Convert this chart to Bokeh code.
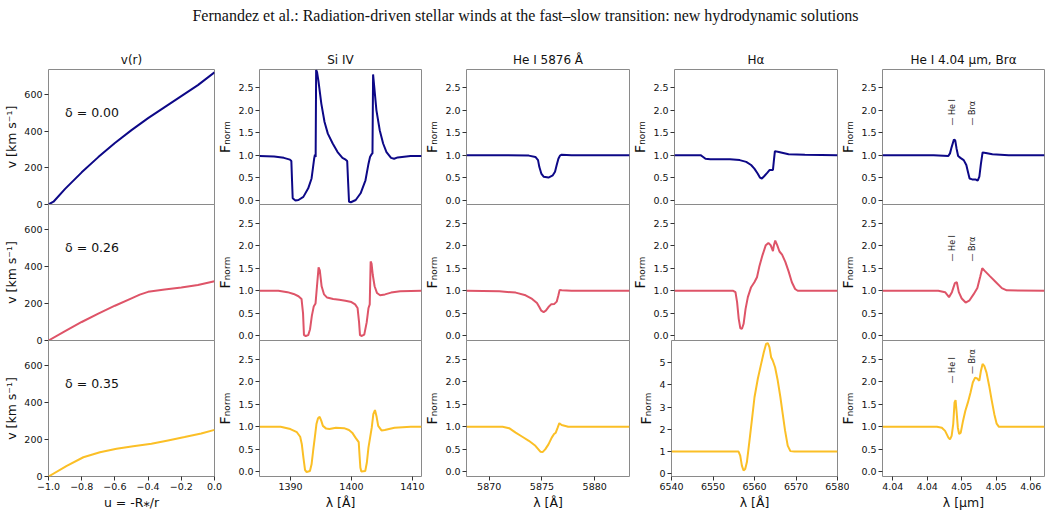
import math
from bokeh.plotting import figure
from bokeh.layouts import column, row
from bokeh.models import Range1d, FixedTicker, Label
from bokeh.embed import file_html
from bokeh.resources import INLINE
from bokeh.core.properties import value

TITLE = "Fernandez et al.: Radiation-driven stellar winds at the fast\u2013slow transition: new hydrodynamic solutions"
COL_TITLES = ["v(r)", "Si IV", "He I 5876 \u00c5", "H\u03b1", "He I 4.04 \u03bcm, Br\u03b1"]
DELTA_LABELS = ["\u03b4 = 0.00", "\u03b4 = 0.26", "\u03b4 = 0.35"]
COLORS = ["#0d0887", "#de5468", "#fbbf26"]

# ---- v(r) ----
U_D000 = [-1.0, -0.97, -0.9, -0.8, -0.7, -0.6, -0.5, -0.4, -0.3, -0.2, -0.1, 0.0]
V_D000 = [0, 15, 85, 175, 258, 335, 405, 470, 530, 590, 650, 720]
U_D026 = [-1.0, -0.9, -0.8, -0.7, -0.6, -0.5, -0.45, -0.4, -0.3, -0.2, -0.1, 0.0]
V_D026 = [0, 50, 100, 145, 188, 228, 248, 263, 275, 286, 300, 320]
U_D035 = [-1.0, -0.89, -0.79, -0.69, -0.59, -0.49, -0.38, -0.28, -0.18, -0.08, 0.0]
V_D035 = [0, 58, 104, 131, 150, 164, 177, 195, 213, 232, 252]

# ---- Si IV ----
SI_WL_0 = [1384.9, 1387.3, 1388.9, 1389.9, 1390.13, 1390.24, 1390.35, 1390.8, 1391.3, 1392.1,
           1392.9, 1393.45, 1393.7, 1393.87, 1394.0, 1394.12,
           1394.2, 1394.35, 1394.57, 1395.05, 1395.58, 1396.12, 1396.92, 1397.72, 1398.52, 1399.05,
           1399.3, 1399.45, 1399.6, 1399.9, 1400.7, 1401.5, 1402.3, 1402.8, 1403.05, 1403.3, 1403.45,
           1403.55, 1403.75, 1404.1, 1404.65, 1405.2, 1405.75, 1406.5, 1407.0, 1407.6, 1409.7, 1411.5]
SI_F_0 = [0.98, 0.97, 0.94, 0.90, 0.87, 0.44, 0.04, -0.01, 0.0, 0.07,
          0.26, 0.48, 0.74, 0.92, 1.01, 0.96,
          2.90, 2.85, 2.66, 2.15, 1.74, 1.48, 1.26, 1.07, 0.94, 0.90,
          0.87, 0.40, -0.04, -0.05, 0.0, 0.15, 0.44, 0.81, 0.96, 1.02, 1.04,
          2.80, 2.51, 2.0, 1.55, 1.26, 1.07, 0.94, 0.92, 0.95, 0.98, 0.98]
SI_WL_1 = [1384.9, 1388.0, 1389.5, 1390.5, 1391.3, 1391.8, 1392.05, 1392.2, 1392.5, 1392.9,
           1393.2, 1393.5, 1393.8, 1394.1, 1394.4, 1394.6, 1394.8, 1395.1, 1395.5, 1396.0,
           1397.0, 1398.0, 1399.0, 1400.0, 1400.6, 1401.0, 1401.25, 1401.4, 1401.7, 1402.1,
           1402.5, 1402.8, 1403.0, 1403.15, 1403.3, 1403.5, 1403.8, 1404.2, 1404.7, 1405.5,
           1406.5, 1408.0, 1411.5]
SI_F_1 = [1.0, 1.0, 0.97, 0.93, 0.88, 0.82, 0.5, 0.02, 0.0, 0.02,
          0.15, 0.45, 0.65, 0.72, 1.2, 1.52, 1.45, 1.1, 0.92, 0.85,
          0.82, 0.80, 0.78, 0.75, 0.70, 0.62, 0.3, 0.02, 0.0, 0.03,
          0.3, 0.62, 0.7, 1.65, 1.6, 1.35, 1.1, 0.95, 0.9, 0.92,
          0.96, 0.99, 1.0]
SI_WL_2 = [1384.9, 1388.37, 1389.97, 1391.04, 1391.58, 1391.84, 1392.11, 1392.38, 1392.64, 1393.18,
           1393.45, 1393.71, 1393.98, 1394.25, 1394.51, 1394.78, 1395.05, 1395.31, 1395.85, 1396.38,
           1397.45, 1398.79, 1399.59, 1400.12, 1400.66, 1401.19, 1401.35, 1401.46, 1401.62, 1402.26,
           1402.53, 1402.79, 1403.06, 1403.33, 1403.59, 1403.86, 1404.13, 1404.39, 1404.93, 1405.46,
           1407.07, 1409.74, 1411.5]
SI_F_2 = [1.0, 1.0, 0.95, 0.88, 0.78, 0.62, 0.32, 0.04, 0.0, 0.02,
          0.17, 0.47, 0.76, 1.06, 1.19, 1.22, 1.13, 1.02, 0.96, 0.95,
          0.98, 0.97, 0.93, 0.87, 0.76, 0.66, 0.32, 0.10, 0.01, 0.02,
          0.21, 0.54, 0.76, 0.98, 1.28, 1.37, 1.22, 1.02, 0.92, 0.93,
          0.98, 1.0, 1.0]

# ---- He I 5876 ----
HE_WL_0 = [5867.85, 5871.58, 5873.76, 5874.38, 5874.63, 5874.75, 5874.94, 5875.16, 5875.62, 5876.03,
           5876.24, 5876.4, 5876.56, 5876.71, 5876.87, 5877.8, 5883.3]
HE_F_0 = [1.0, 1.0, 0.99, 0.96, 0.89, 0.74, 0.59, 0.52, 0.50, 0.55,
          0.63, 0.78, 0.92, 0.99, 1.01, 1.0, 1.0]
HE_WL_1 = [5867.85, 5870.96, 5872.51, 5873.45, 5874.07, 5874.53, 5874.75, 5874.94, 5875.16, 5875.37,
           5875.62, 5875.87, 5876.18, 5876.4, 5876.56, 5876.68, 5876.87, 5877.8, 5883.3]
HE_F_1 = [1.0, 0.99, 0.96, 0.90, 0.82, 0.73, 0.64, 0.56, 0.53, 0.56,
          0.64, 0.70, 0.71, 0.76, 0.90, 1.02, 1.01, 1.0, 1.0]
HE_WL_2 = [5867.85, 5871.27, 5871.89, 5872.51, 5873.14, 5873.76, 5874.38, 5874.85, 5875.06, 5875.31,
           5875.62, 5875.93, 5876.15, 5876.31, 5876.49, 5876.65, 5876.87, 5877.49, 5883.3]
HE_F_2 = [1.0, 1.0, 0.97, 0.87, 0.78, 0.69, 0.58, 0.45, 0.44, 0.50,
          0.61, 0.76, 0.84, 0.87, 0.98, 1.08, 1.04, 1.0, 1.0]

# ---- H alpha ----
HA_WL_0 = [6540.0, 6546.4, 6547.04, 6547.6, 6548.8, 6553.6, 6556.0, 6557.6, 6558.8, 6559.6,
           6560.4, 6560.96, 6561.44, 6562.0, 6562.8, 6563.36, 6564.16, 6564.4, 6564.64, 6565.6,
           6568.0, 6572.0, 6580.0]
HA_F_0 = [1.0, 1.0, 0.96, 0.92, 0.91, 0.91, 0.89, 0.85, 0.78, 0.70,
          0.59, 0.50, 0.48, 0.53, 0.61, 0.67, 0.67, 0.89, 1.09, 1.07,
          1.02, 1.01, 1.0]
HA_WL_1 = [6540.0, 6554.4, 6554.96, 6555.36, 6555.76, 6556.16, 6556.56, 6556.96, 6557.44, 6558.0,
           6558.8, 6559.6, 6560.24, 6560.8, 6561.6, 6562.4, 6563.04, 6563.6, 6564.16, 6564.4,
           6564.72, 6565.2, 6565.76, 6566.4, 6567.2, 6568.0, 6568.8, 6569.6, 6570.24, 6580.0]
HA_F_1 = [1.0, 1.0, 0.97, 0.75, 0.38, 0.17, 0.16, 0.27, 0.60, 0.86,
          1.08, 1.19, 1.30, 1.53, 1.79, 2.01, 2.06, 2.01, 1.88, 2.01,
          2.11, 2.01, 1.87, 1.80, 1.64, 1.43, 1.19, 1.04, 1.0, 1.0]
HA_WL_2 = [6540.0, 6556.16, 6556.56, 6556.96, 6557.36, 6557.76, 6558.16, 6558.8, 6559.36, 6560.0,
           6560.8, 6561.6, 6562.24, 6562.8, 6563.2, 6563.6, 6564.0, 6564.4, 6564.96, 6565.6,
           6566.24, 6566.8, 6567.36, 6568.0, 6568.64, 6569.6, 6580.0]
HA_F_2 = [1.0, 1.0, 0.82, 0.37, 0.15, 0.22, 0.52, 1.50, 2.40, 3.44,
          4.27, 4.94, 5.46, 5.84, 5.87, 5.69, 5.24, 5.09, 4.79, 4.19,
          3.44, 2.69, 1.95, 1.27, 1.02, 1.0, 1.0]

# ---- He I 4.04 um / Br alpha ----
BR_WL_0 = [4.0385, 4.04593, 4.04805, 4.04829, 4.04853, 4.04886, 4.04905, 4.04924, 4.04947, 4.0498,
           4.05028, 4.05066, 4.05089, 4.05113, 4.05151, 4.05198, 4.05231, 4.05255, 4.05278, 4.05302,
           4.05349, 4.05444, 4.0568, 4.062]
BR_F_0 = [1.0, 1.0, 0.98, 1.04, 1.18, 1.35, 1.33, 1.15, 0.98, 0.94,
          0.89, 0.78, 0.63, 0.48, 0.46, 0.46, 0.43, 0.52, 0.81, 1.06,
          1.05, 1.02, 1.0, 1.0]
BR_WL_1 = [4.0385, 4.04659, 4.04758, 4.04815, 4.04857, 4.049, 4.04928, 4.04957, 4.04999, 4.05056,
           4.05113, 4.0517, 4.05226, 4.05269, 4.05297, 4.0534, 4.05411, 4.05496, 4.05581, 4.05652,
           4.062]
BR_F_1 = [1.0, 1.0, 0.97, 0.86, 0.97, 1.17, 1.19, 0.97, 0.83, 0.74,
          0.79, 0.92, 1.06, 1.32, 1.50, 1.43, 1.32, 1.19, 1.06, 1.01,
          1.0]
BR_WL_2 = [4.0385, 4.0464, 4.04711, 4.04758, 4.04806, 4.04829, 4.04853, 4.04876, 4.04895, 4.0491,
           4.04924, 4.04943, 4.04962, 4.04985, 4.05018, 4.05051, 4.05089, 4.05127, 4.0516, 4.05193,
           4.05222, 4.05255, 4.05278, 4.05302, 4.05326, 4.05359, 4.05397, 4.05435, 4.05472, 4.05506,
           4.05539, 4.062]
BR_F_2 = [1.0, 1.0, 0.98, 0.91, 0.76, 0.72, 0.80, 1.06, 1.54, 1.59,
          1.35, 0.98, 0.84, 0.87, 1.13, 1.35, 1.54, 1.76, 1.98, 2.09,
          2.07, 2.02, 2.24, 2.39, 2.35, 2.20, 1.91, 1.58, 1.28, 1.07,
          1.0, 1.0]

BR_MARK_TEXT = ["\u2014 He I", "\u2014 Br\u03b1"]
BR_MARK_WL = [4.0486, 4.0515]
BR_MARK_F = [[1.66, 1.66], [1.65, 1.65], [1.96, 2.17]]

# ---- axes ----
VR_XTICKS = [-1.0, -0.8, -0.6, -0.4, -0.2, 0.0]
VR_XLABELS = ["\u22121.0", "\u22120.8", "\u22120.6", "\u22120.4", "\u22120.2", "0.0"]
VR_YTICKS = [0, 200, 400, 600]
VR_YLABELS = ["0", "200", "400", "600"]
F_TICKS = [0.0, 0.5, 1.0, 1.5, 2.0, 2.5]
F_LABELS = ["0.0", "0.5", "1.0", "1.5", "2.0", "2.5"]
HA2_TICKS = [0, 1, 2, 3, 4, 5]
HA2_LABELS = ["0", "1", "2", "3", "4", "5"]
SI_TICKS = [1390, 1400, 1410]
SI_LABELS = ["1390", "1400", "1410"]
HE_TICKS = [5870, 5875, 5880]
HE_LABELS = ["5870", "5875", "5880"]
HA_TICKS = [6540, 6550, 6560, 6570, 6580]
HA_LABELS = ["6540", "6550", "6560", "6570", "6580"]
BR_TICKS = [4.04, 4.045, 4.05, 4.055, 4.06]
BR_LABELS = ["4.04", "4.04", "4.05", "4.05", "4.06"]

F_LIM = (-0.1, 2.91)
F_NORM = "F\u2099\u2092\u1d63\u2098"
COLS = [
    dict(x=[U_D000, U_D026, U_D035], y=[V_D000, V_D026, V_D035], xr=(-1.0, 0.0),
         yr=[(0, 735)] * 3, xt=VR_XTICKS, xtl=VR_XLABELS,
         yt=[VR_YTICKS] * 3, ytl=[VR_YLABELS] * 3,
         xl="u = -R\u204e/r", yl="v [km s\u207b\u00b9]", yfs="12.5px"),
    dict(x=[SI_WL_0, SI_WL_1, SI_WL_2], y=[SI_F_0, SI_F_1, SI_F_2], xr=(1384.9, 1411.5),
         yr=[F_LIM] * 3, xt=SI_TICKS, xtl=SI_LABELS,
         yt=[F_TICKS] * 3, ytl=[F_LABELS] * 3, xl="\u03bb [\u00c5]", yl=F_NORM, yfs="14px"),
    dict(x=[HE_WL_0, HE_WL_1, HE_WL_2], y=[HE_F_0, HE_F_1, HE_F_2], xr=(5867.85, 5883.3),
         yr=[F_LIM] * 3, xt=HE_TICKS, xtl=HE_LABELS,
         yt=[F_TICKS] * 3, ytl=[F_LABELS] * 3, xl="\u03bb [\u00c5]", yl=F_NORM, yfs="14px"),
    dict(x=[HA_WL_0, HA_WL_1, HA_WL_2], y=[HA_F_0, HA_F_1, HA_F_2], xr=(6540, 6580),
         yr=[F_LIM, F_LIM, (-0.12, 5.99)], xt=HA_TICKS, xtl=HA_LABELS,
         yt=[F_TICKS, F_TICKS, HA2_TICKS], ytl=[F_LABELS, F_LABELS, HA2_LABELS],
         xl="\u03bb [\u00c5]", yl=F_NORM, yfs="14px"),
    dict(x=[BR_WL_0, BR_WL_1, BR_WL_2], y=[BR_F_0, BR_F_1, BR_F_2], xr=(4.0385, 4.062),
         yr=[F_LIM] * 3, xt=BR_TICKS, xtl=BR_LABELS,
         yt=[F_TICKS] * 3, ytl=[F_LABELS] * 3, xl="\u03bb [\u03bcm]", yl=F_NORM, yfs="14px"),
]

# Layout: every figure gets a little extra transparent room on its right/bottom so that edge
# tick labels are not cut; the next figure is pulled back over that room with a negative margin.
FRAME_W = 166
FRAME_H = [135, 136, 136]
LEFT = [48, 41, 42, 42, 41]
RIGHT = [12, 12, 12, 12, 6]
PULL_X = [0, 12, 12, 12, 12]
TOP = [33, 0, 0]
BOTTOM = [7, 7, 36]
PULL_Y = [0, 7, 7]
FONT = "DejaVu Sans"
TEXT_COLOR = "#111111"


def style_axis(ax):
    ax.axis_line_color = None
    ax.major_tick_line_color = "#333333"
    ax.major_tick_in = 0
    ax.major_tick_out = 4
    ax.minor_tick_line_color = None
    ax.major_label_text_font = FONT
    ax.major_label_text_font_size = "9.5px"
    ax.major_label_text_color = TEXT_COLOR
    ax.major_label_standoff = 2
    ax.axis_label_text_font = FONT
    ax.axis_label_text_font_size = "12.5px"
    ax.axis_label_text_font_style = "normal"
    ax.axis_label_text_color = TEXT_COLOR
    ax.axis_label_standoff = 2


rows = []
for r in range(3):
    figs = []
    for c, spec in enumerate(COLS):
        xs, ys = spec["x"][r], spec["y"][r]
        assert len(xs) == len(ys), (r, c)
        yr = spec["yr"][r]
        p = figure(width=LEFT[c] + FRAME_W + RIGHT[c], height=TOP[r] + FRAME_H[r] + BOTTOM[r],
                   x_range=Range1d(*spec["xr"]), y_range=Range1d(*yr),
                   min_border_left=LEFT[c], min_border_right=RIGHT[c],
                   min_border_top=TOP[r], min_border_bottom=BOTTOM[r],
                   x_axis_location="below" if r == 2 else None,
                   title=COL_TITLES[c] if r == 0 else None,
                   toolbar_location=None, output_backend="svg",
                   background_fill_color=None, border_fill_color=None,
                   outline_line_color="#8a8a8a", outline_line_width=1,
                   margin=(-PULL_Y[r], 0, 0, -PULL_X[c]))
        p.grid.visible = False
        if r == 0:
            p.title.align = "center"
            p.title.text_font = FONT
            p.title.text_font_size = "12px"
            p.title.text_font_style = "normal"
            p.title.text_color = TEXT_COLOR
            p.title.standoff = 5
        for ax in p.axis:
            style_axis(ax)

        yt, ytl = spec["yt"][r], spec["ytl"][r]
        p.yaxis.ticker = FixedTicker(ticks=yt)
        p.yaxis.major_label_overrides = dict(zip(yt, ytl))
        p.yaxis.axis_label = spec["yl"]
        p.yaxis.axis_label_text_font_size = spec["yfs"]

        if r == 2:
            p.xaxis.ticker = FixedTicker(ticks=spec["xt"])
            p.xaxis.major_label_overrides = dict(zip(spec["xt"], spec["xtl"]))
            p.xaxis.axis_label = spec["xl"]

        p.line(xs, ys, line_color=COLORS[r], line_width=2)
        if c == 0:
            p.add_layout(Label(x=-0.9, y=500, text=DELTA_LABELS[r], text_font=FONT,
                               text_font_size="12.5px", text_baseline="middle",
                               text_color=TEXT_COLOR))
        if c == 4:
            p.text(x=BR_MARK_WL, y=BR_MARK_F[r], text=BR_MARK_TEXT, angle=math.pi / 2,
                   text_align="left", text_baseline="middle", text_font=value(FONT),
                   text_font_size="8px", text_color="#222222")
        figs.append(p)
    rows.append(row(*figs))

top = figure(width=1050, height=36, x_range=Range1d(0, 1), y_range=Range1d(0, 1),
             x_axis_location=None, y_axis_location=None, min_border=0, title=None,
             toolbar_location=None, output_backend="svg", outline_line_color=None,
             background_fill_color=None, border_fill_color=None)
top.grid.visible = False
top.add_layout(Label(x=525, y=21, x_units="screen", y_units="screen", text=TITLE,
                     text_align="center", text_baseline="middle",
                     text_font="Liberation Serif", text_font_size="16px", text_color=TEXT_COLOR))

layout = column(top, *rows)
open("out.html", "w").write(file_html(layout, INLINE, "Fernandez et al."))
